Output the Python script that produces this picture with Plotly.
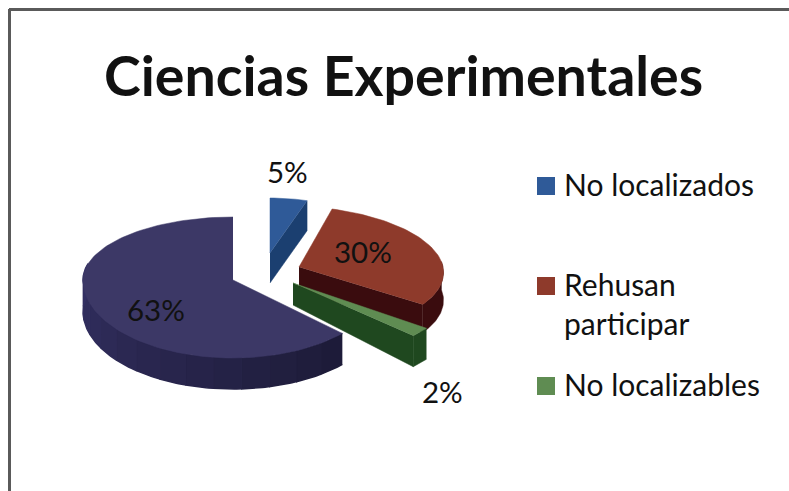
import numpy as np
import plotly.graph_objects as go

title = "Ciencias Experimentales"
categories = ["No localizados", "Rehusan participar", "No localizables", "Otros"]
values = [5, 30, 2, 63]
legend_labels = ["No localizados", "Rehusan<br>participar", "No localizables"]

top_colors = ["#2F5A98", "#8E3A2B", "#5F8C52", "#3C3866"]
side_colors = ["#1B3F70", "#3A0C0E", "#1F481F", "#2C2954"]

# Per-slice projection of the tilted pie, in image pixels
geom = [
    dict(cx=270, cy=253, rx=120, ryb=55, ryf=70, k=0, depth=30),
    dict(cx=299, cy=267, rx=144, ryb=61, ryf=64, k=-12, depth=28),
    dict(cx=293, cy=283, rx=165, ryb=70, ryf=77, k=0, depth=31),
    dict(cx=233, cy=280, rx=150, ryb=63, ryf=78, k=0, depth=31),
]
W, H = 789, 491


def rim(g, a0, a1, n=60, dz=0):
    th = np.radians(np.linspace(a0, a1, n))
    c, s = np.cos(th), np.sin(th)
    ry = np.where(c > 0, g["ryb"], g["ryf"])
    return g["cx"] + g["rx"] * s + g["k"] * c, g["cy"] - ry * c + dz


def poly(x, y, color, lw=0.5):
    return go.Scatter(x=list(x), y=list(y), mode="lines", fill="toself", fillcolor=color,
                      line=dict(color=color, width=lw), hoverinfo="skip", showlegend=False)


def shade(hex_color, f):
    r, g, b = (int(hex_color[i:i + 2], 16) for i in (1, 3, 5))
    return f"rgb({int(r * f)},{int(g * f)},{int(b * f)})"


cum = np.cumsum([0] + values) * 3.6
spans = [(cum[i], cum[i + 1]) for i in range(len(values))]
fig = go.Figure()

# Large slice: rim with gradient, then top
g, (a0, a1) = geom[3], spans[3]
edges = np.linspace(a0, 285, 15)
for i in range(len(edges) - 1):
    x1, y1 = rim(g, edges[i], edges[i + 1], 12)
    x2, y2 = rim(g, edges[i], edges[i + 1], 12, g["depth"])
    f = 0.68 + 0.5 * i / (len(edges) - 2)
    fig.add_trace(poly(np.r_[x1, x2[::-1]], np.r_[y1, y2[::-1]], shade(side_colors[3], f), lw=1.5))
x, y = rim(g, a0, a1, 120)
fig.add_trace(poly(np.r_[g["cx"], x], np.r_[g["cy"], y], top_colors[3]))

# Red slice
g, (a0, a1) = geom[1], spans[1]
x, y = rim(g, a1, 85, 40)
xb, yb = rim(g, a1, 85, 40, g["depth"])
fig.add_trace(poly(np.r_[x, xb[::-1]], np.r_[y, yb[::-1]], side_colors[1]))
ex, ey = rim(g, a1, a1, 1)
fig.add_trace(poly([g["cx"], ex[0], ex[0], g["cx"]],
                   [g["cy"], ey[0], ey[0] + g["depth"], g["cy"] + g["depth"] - 6], side_colors[1]))
x, y = rim(g, a0, a1, 60)
fig.add_trace(poly(np.r_[g["cx"], x], np.r_[g["cy"], y], top_colors[1]))

# Green slice
g, (a0, a1) = geom[2], spans[2]
x, y = rim(g, a0, a1, 8)
fig.add_trace(poly(np.r_[x, x[::-1]], np.r_[y, y[::-1] + g["depth"]], side_colors[2]))
ex, ey = rim(g, a1, a1, 1)
fig.add_trace(poly([g["cx"], ex[0], ex[0], g["cx"]],
                   [g["cy"], ey[0], ey[0] + g["depth"], g["cy"] + 22], side_colors[2]))
fig.add_trace(poly(np.r_[g["cx"], x], np.r_[g["cy"], y], top_colors[2]))

# Blue slice
g, (a0, a1) = geom[0], spans[0]
ex, ey = rim(g, a1, a1, 1)
fig.add_trace(poly([g["cx"], ex[0], ex[0], g["cx"]],
                   [g["cy"], ey[0], ey[0] + g["depth"], g["cy"] + g["depth"]], side_colors[0]))
x, y = rim(g, a0, a1, 10)
fig.add_trace(poly(np.r_[g["cx"], x], np.r_[g["cy"], y], top_colors[0]))

FONT = "Lato"
annotations = []


def text(x, y, s, size, anchor="center", bold=False):
    annotations.append(dict(x=x, y=y, xref="x", yref="y", text=f"<b>{s}</b>" if bold else s,
                            showarrow=False, xanchor=anchor, yanchor="middle", align="left",
                            font=dict(family=FONT, size=size, color="#111111")))


text(403, 74, title, 55.5, bold=True)
label_pos = [(287, 171), (363, 251), (442, 391), (156, 309)]
for v, (lx, ly) in zip(values, label_pos):
    text(lx, ly, f"{v}%", 29.5)

swatch_y = [186, 286, 386]
legend_text_y = [184, 303, 384]
for sy, ly, lab, col in zip(swatch_y, legend_text_y, legend_labels, top_colors):
    fig.add_shape(type="rect", x0=537, x1=555, y0=sy - 9, y1=sy + 9, fillcolor=col, line_width=0)
    text(562, ly, lab, 30, anchor="left")

fig.add_shape(type="line", x0=9, x1=W, y0=9.5, y1=9.5, line=dict(color="#5A5A5A", width=3))
fig.add_shape(type="line", x0=9.5, x1=9.5, y0=9, y1=H, line=dict(color="#5A5A5A", width=3))

fig.update_layout(
    width=W, height=H, margin=dict(l=0, r=0, t=0, b=0),
    paper_bgcolor="white", plot_bgcolor="white", showlegend=False,
    xaxis=dict(range=[0, W], visible=False, fixedrange=True),
    yaxis=dict(range=[H, 0], visible=False, fixedrange=True),
    annotations=annotations,
)
fig.write_html("out.html", config={"displayModeBar": False},
               post_script="document.body.style.margin='0';document.body.style.overflow='hidden';")
